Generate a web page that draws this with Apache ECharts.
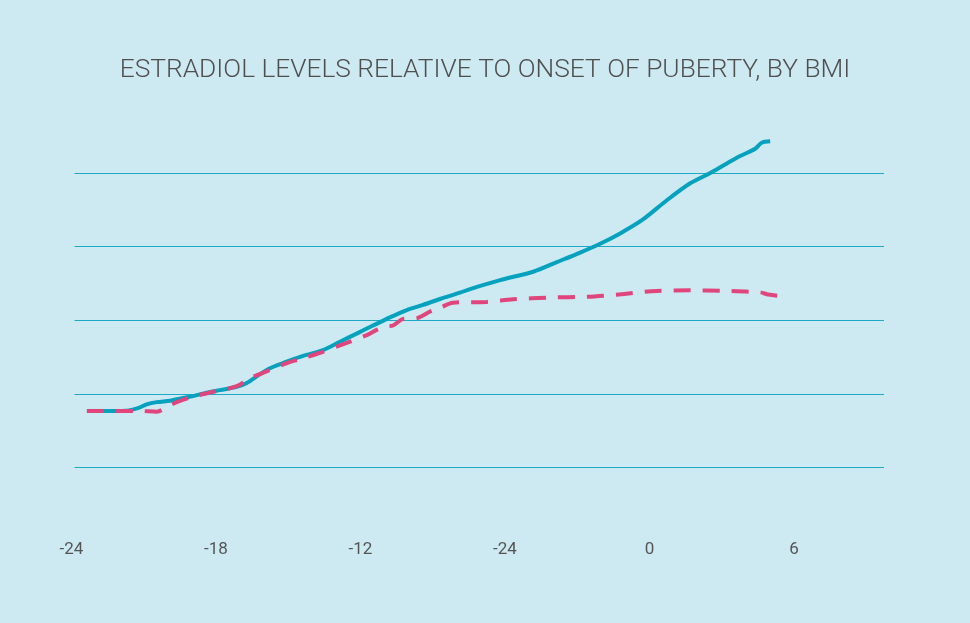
<!DOCTYPE html>
<html>
<head>
<meta charset="utf-8">
<script src="https://cdn.jsdelivr.net/npm/echarts@6/dist/echarts.min.js"></script>
<style>
html,body{margin:0;padding:0;background:#cde9f1;}
#c{width:970px;height:623px;}
</style>
</head>
<body>
<div id="c"></div>
<script>
// Months relative to onset of puberty (x) and relative estradiol level (y)
const tickValues = [-24, -18, -12, -6, 0, 6];
const tickLabels = ['-24', '-18', '-12', '-24', '0', '6'];

const blueX = [-23.36,-22.28,-21.71,-21.24,-20.88,-20.46,-19.91,-19.37,-18.95,-18.39,-17.83,-17.14,-16.72,-16.17,-15.76,-15.22,-14.51,-13.56,-12.85,-12.16,-11.48,-10.91,-10.08,-9.40,-8.70,-7.87,-7.45,-6.20,-4.83,-3.85,-2.88,-2.05,-1.22,-0.27,0.72,1.69,2.52,3.21,3.76,4.39,4.66,5.01];
const blueY = [0.77,0.77,0.773,0.808,0.86,0.89,0.91,0.946,0.972,1.017,1.053,1.098,1.15,1.27,1.35,1.42,1.505,1.596,1.71,1.82,1.93,2.02,2.14,2.21,2.29,2.375,2.425,2.546,2.66,2.79,2.92,3.04,3.18,3.37,3.63,3.86,4.0,4.13,4.23,4.33,4.41,4.43];

const pinkX = [-23.36,-21.86,-21.16,-20.46,-20.05,-19.63,-18.95,-18.12,-17.14,-16.59,-16.10,-15.06,-14.51,-13.68,-12.85,-11.74,-11.33,-10.91,-10.65,-10.23,-9.66,-9.11,-8.70,-8.16,-6.76,-5.67,-4.13,-2.60,-1.15,0.30,1.69,3.06,4.60,4.93,5.76];
const pinkY = [0.77,0.77,0.77,0.76,0.82,0.89,0.965,1.03,1.106,1.216,1.28,1.42,1.475,1.56,1.66,1.80,1.87,1.92,1.93,2.02,2.03,2.12,2.17,2.24,2.25,2.285,2.31,2.32,2.355,2.40,2.407,2.40,2.38,2.35,2.32];

const gridValues = [0, 1, 2, 3, 4];

const pair = (xs, ys) => xs.map((x, i) => [x, ys[i]]);

const chart = echarts.init(document.getElementById('c'));
chart.setOption({
  backgroundColor: '#cde9f1',
  animation: false,
  title: {
    text: 'ESTRADIOL LEVELS RELATIVE TO ONSET OF PUBERTY, BY BMI',
    left: 'center',
    top: 52,
    textStyle: {fontFamily: 'Roboto', fontWeight: 300, fontSize: 26.3, color: '#4f4f4f'}
  },
  grid: [
    {left: 74.5, right: 86, top: 173, bottom: 155.3},
    {left: 71.5, right: 176, top: 173, bottom: 155.3}
  ],
  xAxis: [
    {gridIndex: 0, type: 'value', min: 0, max: 1, show: false},
    {gridIndex: 1, type: 'value', min: -24, max: 6, interval: 6,
      axisLine: {show: false}, axisTick: {show: false}, splitLine: {show: false},
      axisLabel: {margin: 74, fontFamily: '"Liberation Sans Narrow", Roboto', fontSize: 17, color: '#555555',
        formatter: v => { const i = tickValues.indexOf(v); return i >= 0 ? tickLabels[i] : ''; }}}
  ],
  yAxis: [
    {gridIndex: 0, type: 'value', min: gridValues[0], max: gridValues[gridValues.length-1], interval: 1,
      axisLine: {show: false}, axisTick: {show: false}, axisLabel: {show: false},
      splitLine: {show: true, lineStyle: {color: '#1eaac5', width: 1.2}}},
    {gridIndex: 1, type: 'value', min: 0, max: 4, interval: 1, show: false, splitLine: {show: false}}
  ],
  series: [
    {type: 'line', xAxisIndex: 1, yAxisIndex: 1, data: pair(blueX, blueY), smooth: 0.3,
      showSymbol: false, clip: false, z: 3,
      lineStyle: {color: '#04a2bf', width: 4}},
    {type: 'line', xAxisIndex: 1, yAxisIndex: 1, data: pair(pinkX, pinkY), smooth: 0.3,
      showSymbol: false, clip: false, z: 4,
      lineStyle: {color: '#e0457b', width: 4, type: [17, 12]}}
  ]
});
</script>
</body>
</html>
